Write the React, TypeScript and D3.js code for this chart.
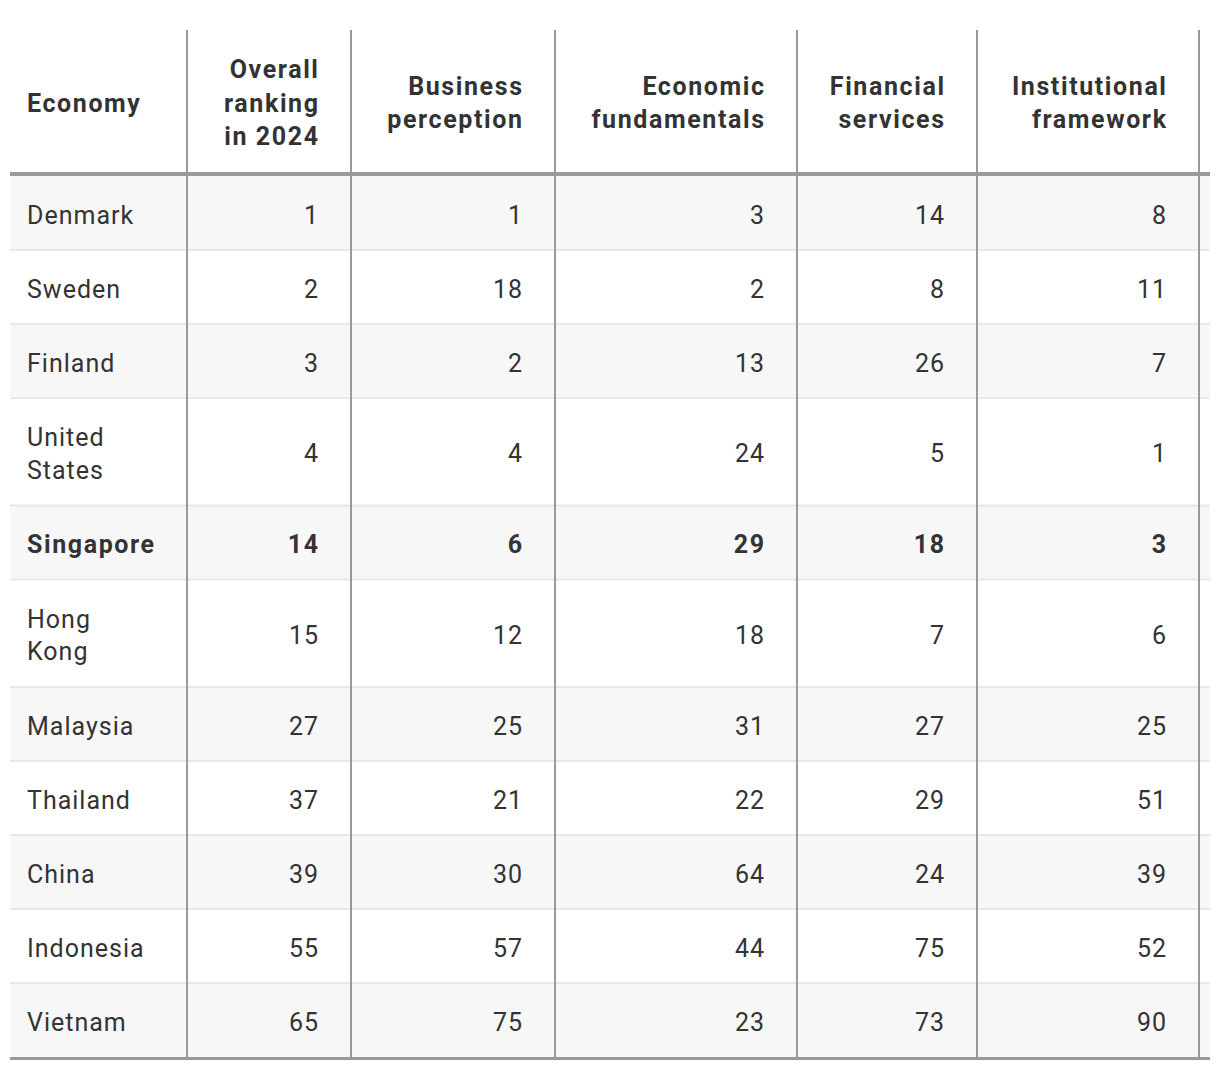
import React from 'react'
import * as d3 from 'd3'

// Table content
const economies = [
  'Denmark',
  'Sweden',
  'Finland',
  'United States',
  'Singapore',
  'Hong Kong',
  'Malaysia',
  'Thailand',
  'China',
  'Indonesia',
  'Vietnam',
]
const economyLines = [
  ['Denmark'],
  ['Sweden'],
  ['Finland'],
  ['United', 'States'],
  ['Singapore'],
  ['Hong', 'Kong'],
  ['Malaysia'],
  ['Thailand'],
  ['China'],
  ['Indonesia'],
  ['Vietnam'],
]
const headers = [
  ['Economy'],
  ['Overall', 'ranking', 'in 2024'],
  ['Business', 'perception'],
  ['Economic', 'fundamentals'],
  ['Financial', 'services'],
  ['Institutional', 'framework'],
]
const overall = [1, 2, 3, 4, 14, 15, 27, 37, 39, 55, 65]
const business = [1, 18, 2, 4, 6, 12, 25, 21, 30, 57, 75]
const economic = [3, 2, 13, 24, 29, 18, 31, 22, 64, 44, 23]
const financial = [14, 8, 26, 5, 18, 7, 27, 29, 24, 75, 73]
const institutional = [8, 11, 7, 1, 3, 6, 25, 51, 39, 52, 90]
const highlighted = 'Singapore'

const valueColumns = [overall, business, economic, financial, institutional]

// layout
const width = 1220
const height = 1070
const colWidths = [177, 164, 204, 242, 180, 222]
const tableLeft = 10
const tableRight = 1210
const headerTop = 30
const headerBottom = 172
const headerRule = 4
const lineHeight = 32.5
const headerLineHeight = 33.5
const singleRowH = 74
const fontSize = 25
const font = 'Roboto, "Noto Sans", sans-serif'
const textColor = '#333'
const ruleColor = '#999'
const lsNormal = 1.0
const lsBold = 1.6

function App() {
  const xEdges = [tableLeft, ...Array.from(d3.cumsum(colWidths)).map((w) => tableLeft + w)]

  const rowHeights = economyLines.map(
    (l) => singleRowH + (l.length - 1) * (lineHeight + 1)
  )
  const bodyTop = headerBottom + headerRule
  const rowTops = [bodyTop, ...Array.from(d3.cumsum(rowHeights)).map((h) => bodyTop + h)]
  const bodyBottom = rowTops[rowTops.length - 1]

  const baseOffset = 10.5

  const lineBaselines = (n: number, cy: number, lh: number) =>
    d3.range(n).map((i) => cy + (i - (n - 1) / 2) * lh + baseOffset)

  const headerCy = (headerTop + headerBottom) / 2

  return (
    <svg
      width={width}
      height={height}
      style={{ position: 'absolute', left: 0, top: 0, background: '#fff' }}
      fontFamily={font}
      fontSize={fontSize}
    >
      {/* row backgrounds */}
      {economies.map((e, i) => (
        <rect
          key={'bg' + e}
          x={tableLeft}
          y={rowTops[i]}
          width={tableRight - tableLeft}
          height={rowHeights[i]}
          fill={i % 2 === 0 ? '#f7f7f7' : '#ffffff'}
        />
      ))}
      {/* row separators */}
      {economies.slice(1).map((e, i) => (
        <rect
          key={'sep' + e}
          x={tableLeft}
          y={rowTops[i + 1] - 1}
          width={tableRight - tableLeft}
          height={2}
          fill="#e8e8e8"
        />
      ))}
      {/* vertical rules */}
      {xEdges.slice(1).map((x, i) => (
        <rect
          key={'v' + i}
          x={x - 1}
          y={headerTop}
          width={2}
          height={bodyBottom - headerTop}
          fill={ruleColor}
        />
      ))}
      {/* header rule and bottom rule */}
      <rect x={tableLeft} y={headerBottom} width={tableRight - tableLeft} height={headerRule} fill={ruleColor} />
      <rect x={tableLeft} y={bodyBottom} width={tableRight - tableLeft} height={3} fill={ruleColor} />

      {/* header */}
      {headers.map((lines, c) => {
        const anchor = c === 0 ? 'start' : 'end'
        const x = c === 0 ? xEdges[0] + 17 : xEdges[c + 1] - 33 + lsBold
        const ys = lineBaselines(lines.length, headerCy, headerLineHeight)
        return (
          <text
            key={'h' + c}
            textAnchor={anchor}
            fontWeight="bold"
            fill={textColor}
            letterSpacing={lsBold}
          >
            {lines.map((l, j) => (
              <tspan key={j} x={x} y={ys[j]}>
                {l}
              </tspan>
            ))}
          </text>
        )
      })}

      {/* body */}
      {economies.map((e, i) => {
        const cy = rowTops[i] + rowHeights[i] / 2
        const isBold = e === highlighted
        const ls = isBold ? lsBold : lsNormal
        const ys = lineBaselines(economyLines[i].length, cy, lineHeight)
        return (
          <g
            key={'r' + e}
            fill={textColor}
            fontWeight={isBold ? 'bold' : 'normal'}
            letterSpacing={ls}
          >
            <text textAnchor="start">
              {economyLines[i].map((l, j) => (
                <tspan key={j} x={xEdges[0] + 17} y={ys[j]}>
                  {l}
                </tspan>
              ))}
            </text>
            {valueColumns.map((vals, c) => (
              <text key={c} x={xEdges[c + 2] - 33 + ls} y={cy + baseOffset} textAnchor="end">
                {vals[i]}
              </text>
            ))}
          </g>
        )
      })}
    </svg>
  )
}

export default App
